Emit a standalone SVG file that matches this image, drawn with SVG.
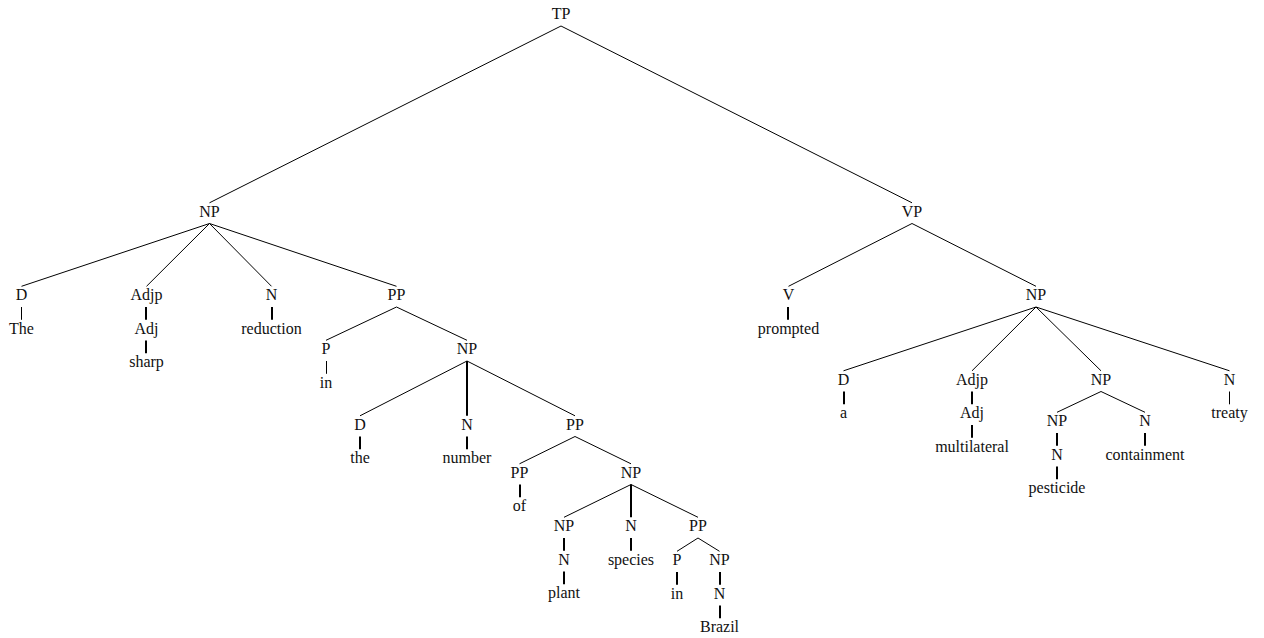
<svg xmlns="http://www.w3.org/2000/svg" width="1264" height="638" viewBox="0 0 1264 638" font-family="Liberation Serif, DejaVu Serif, serif">
<style>
  text { font-family: "Liberation Serif", "DejaVu Serif", serif; font-size: 16px; fill: #111; text-anchor: middle; }
  .e { stroke: #000; stroke-width: 1; fill: none; }
  .u { stroke: #000; stroke-width: 2; fill: none; }
  .t { stroke: #000; stroke-width: 1; fill: none; }
</style>
<rect width="1264" height="638" fill="#fff"/>
<g id="connectors">
  <line class="e" x1="561" y1="26" x2="209.5" y2="202.8"/>
  <line class="e" x1="561" y1="26" x2="912" y2="202.8"/>
  <line class="e" x1="209.5" y1="223.5" x2="21.5" y2="286.3"/>
  <line class="e" x1="209.5" y1="223.5" x2="146.5" y2="286.3"/>
  <line class="e" x1="209.5" y1="223.5" x2="271.5" y2="286.3"/>
  <line class="e" x1="209.5" y1="223.5" x2="396.5" y2="286.3"/>
  <line class="t" x1="21.5" y1="307" x2="21.5" y2="319.8"/>
  <line class="u" x1="146" y1="307" x2="146" y2="319.8"/>
  <line class="u" x1="146" y1="340.5" x2="146" y2="353.3"/>
  <line class="u" x1="272" y1="307" x2="272" y2="319.8"/>
  <line class="e" x1="396.5" y1="307" x2="326" y2="340.3"/>
  <line class="e" x1="396.5" y1="307" x2="467" y2="340.3"/>
  <line class="t" x1="326.5" y1="361" x2="326.5" y2="373.8"/>
  <line class="e" x1="467" y1="361" x2="360" y2="415.8"/>
  <line class="u" x1="467" y1="361" x2="467" y2="415.8"/>
  <line class="e" x1="467" y1="361" x2="575" y2="415.8"/>
  <line class="u" x1="360" y1="436.5" x2="360" y2="449.3"/>
  <line class="u" x1="467" y1="436.5" x2="467" y2="449.3"/>
  <line class="e" x1="575" y1="436.5" x2="519.5" y2="463.8"/>
  <line class="e" x1="575" y1="436.5" x2="631" y2="463.8"/>
  <line class="u" x1="520" y1="484.5" x2="520" y2="497.3"/>
  <line class="e" x1="631" y1="484.5" x2="564" y2="517.3"/>
  <line class="u" x1="631" y1="484.5" x2="631" y2="517.3"/>
  <line class="e" x1="631" y1="484.5" x2="698" y2="517.3"/>
  <line class="u" x1="564" y1="538" x2="564" y2="550.8"/>
  <line class="u" x1="564" y1="571.5" x2="564" y2="584.3"/>
  <line class="u" x1="631" y1="538" x2="631" y2="550.8"/>
  <line class="e" x1="698" y1="538" x2="677" y2="551.3"/>
  <line class="e" x1="698" y1="538" x2="719.5" y2="551.3"/>
  <line class="u" x1="677" y1="572" x2="677" y2="584.8"/>
  <line class="u" x1="720" y1="572" x2="720" y2="584.8"/>
  <line class="u" x1="720" y1="605.5" x2="720" y2="618.3"/>
  <line class="e" x1="912" y1="223.5" x2="788.5" y2="286.3"/>
  <line class="e" x1="912" y1="223.5" x2="1036" y2="286.3"/>
  <line class="u" x1="788" y1="307" x2="788" y2="319.8"/>
  <line class="e" x1="1036" y1="307" x2="843.5" y2="370.8"/>
  <line class="e" x1="1036" y1="307" x2="972" y2="370.8"/>
  <line class="e" x1="1036" y1="307" x2="1101" y2="370.8"/>
  <line class="e" x1="1036" y1="307" x2="1229.5" y2="370.8"/>
  <line class="u" x1="844" y1="391.5" x2="844" y2="404.3"/>
  <line class="u" x1="972" y1="391.5" x2="972" y2="404.3"/>
  <line class="u" x1="972" y1="425" x2="972" y2="437.8"/>
  <line class="t" x1="1229.5" y1="391.5" x2="1229.5" y2="404.3"/>
  <line class="e" x1="1101" y1="391.5" x2="1057" y2="412.3"/>
  <line class="e" x1="1101" y1="391.5" x2="1145" y2="412.3"/>
  <line class="u" x1="1057" y1="433" x2="1057" y2="445.8"/>
  <line class="u" x1="1057" y1="466.5" x2="1057" y2="479.3"/>
  <line class="u" x1="1145" y1="433" x2="1145" y2="445.8"/>
</g>
<g id="n-TP"><text x="561" y="19">TP</text></g>
<g id="n-NP1"><text x="209.5" y="216.5">NP</text></g>
<g id="n-VP"><text x="912" y="216.5">VP</text></g>
<g id="n-D1"><text x="21.5" y="300">D</text></g>
<g id="n-The"><text x="21.5" y="333.5">The</text></g>
<g id="n-Adjp1"><text x="146.5" y="300">Adjp</text></g>
<g id="n-Adj1"><text x="146.5" y="333.5">Adj</text></g>
<g id="n-sharp"><text x="146.5" y="367">sharp</text></g>
<g id="n-N1"><text x="271.5" y="300">N</text></g>
<g id="n-reduction"><text x="271.5" y="333.5">reduction</text></g>
<g id="n-PP1"><text x="396.5" y="300">PP</text></g>
<g id="n-P1"><text x="326" y="354">P</text></g>
<g id="n-in1"><text x="326" y="387.5">in</text></g>
<g id="n-NP2"><text x="467" y="354">NP</text></g>
<g id="n-D2"><text x="360" y="429.5">D</text></g>
<g id="n-the"><text x="360" y="463">the</text></g>
<g id="n-N2"><text x="467" y="429.5">N</text></g>
<g id="n-number"><text x="467" y="463">number</text></g>
<g id="n-PP2"><text x="575" y="429.5">PP</text></g>
<g id="n-PP3"><text x="519.5" y="477.5">PP</text></g>
<g id="n-of"><text x="519.5" y="511">of</text></g>
<g id="n-NP3"><text x="631" y="477.5">NP</text></g>
<g id="n-NP4"><text x="564" y="531">NP</text></g>
<g id="n-N3"><text x="564" y="564.5">N</text></g>
<g id="n-plant"><text x="564" y="598">plant</text></g>
<g id="n-N4"><text x="631" y="531">N</text></g>
<g id="n-species"><text x="631" y="564.5">species</text></g>
<g id="n-PP4"><text x="698" y="531">PP</text></g>
<g id="n-P2"><text x="677" y="565">P</text></g>
<g id="n-in2"><text x="677" y="598.5">in</text></g>
<g id="n-NP5"><text x="719.5" y="565">NP</text></g>
<g id="n-N5"><text x="719.5" y="598.5">N</text></g>
<g id="n-Brazil"><text x="719.5" y="632">Brazil</text></g>
<g id="n-V"><text x="788.5" y="300">V</text></g>
<g id="n-prompted"><text x="788.5" y="333.5">prompted</text></g>
<g id="n-NP6"><text x="1036" y="300">NP</text></g>
<g id="n-D3"><text x="843.5" y="384.5">D</text></g>
<g id="n-a"><text x="843.5" y="418">a</text></g>
<g id="n-Adjp2"><text x="972" y="384.5">Adjp</text></g>
<g id="n-Adj2"><text x="972" y="418">Adj</text></g>
<g id="n-multilateral"><text x="972" y="451.5">multilateral</text></g>
<g id="n-NP7"><text x="1101" y="384.5">NP</text></g>
<g id="n-NP8"><text x="1057" y="426">NP</text></g>
<g id="n-N6"><text x="1057" y="459.5">N</text></g>
<g id="n-pesticide"><text x="1057" y="493">pesticide</text></g>
<g id="n-N7"><text x="1145" y="426">N</text></g>
<g id="n-containment"><text x="1145" y="459.5">containment</text></g>
<g id="n-N8"><text x="1229.5" y="384.5">N</text></g>
<g id="n-treaty"><text x="1229.5" y="418">treaty</text></g>
</svg>
